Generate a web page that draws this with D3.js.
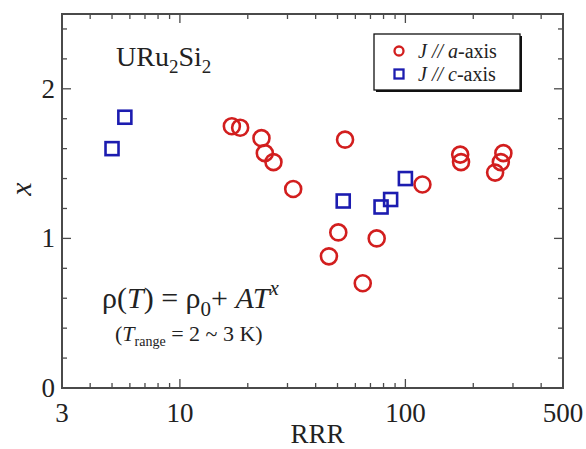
<!DOCTYPE html>
<html>
<head>
<meta charset="utf-8">
<script src="https://cdn.jsdelivr.net/npm/d3@7/dist/d3.min.js"></script>
<style>
  body { margin: 0; background: #fff; }
  text { font-family: 'Liberation Serif', 'DejaVu Serif', serif; fill: #222; }
</style>
</head>
<body>
<div id="chart"></div>
<script>
// J // a-axis
const aRRR = [17.0, 18.5, 23.0, 23.8, 26.0, 31.8, 54.0, 45.8, 50.4, 64.7, 74.6, 119, 175, 176.5, 250, 265, 272]
const aX = [1.75, 1.74, 1.67, 1.57, 1.51, 1.33, 1.66, 0.88, 1.04, 0.70, 1.00, 1.36, 1.56, 1.51, 1.44, 1.51, 1.57]
// J // c-axis
const cRRR = [5.0, 5.7, 53, 78, 86, 100]
const cX = [1.60, 1.81, 1.25, 1.21, 1.26, 1.40]

const xTickLabels = [3, 10, 100, 500]
const xMinor = [4, 5, 6, 7, 8, 9, 20, 30, 40, 50, 60, 70, 80, 90, 200, 300, 400]
const yTickLabels = [0, 1, 2]
const yMinor = [0.2, 0.4, 0.6, 0.8, 1.2, 1.4, 1.6, 1.8, 2.2, 2.4]

const W = 586
const H = 449
const margin = { left: 62, right: 23, top: 14, bottom: 61 }

const RED = '#d21e1e'
const BLUE = '#1c1cb0'
const AXIS = '#4a4a4a'

const svg = d3.select('#chart').append('svg').attr('width', W).attr('height', H)

const x = d3.scaleLog().domain([3, 500]).range([margin.left, W - margin.right])
const y = d3.scaleLinear().domain([0, 2.5]).range([H - margin.bottom, margin.top])

const x0 = x.range()[0]
const x1 = x.range()[1]
const y0 = y.range()[0]
const y1 = y.range()[1]

const drawTicks = (vals, len, isX) => {
  vals.forEach((v) => {
    if (isX) {
      svg.append('line').attr('x1', x(v)).attr('x2', x(v)).attr('y1', y0).attr('y2', y0 - len)
        .attr('stroke', AXIS).attr('stroke-width', 1.3)
      svg.append('line').attr('x1', x(v)).attr('x2', x(v)).attr('y1', y1).attr('y2', y1 + len)
        .attr('stroke', AXIS).attr('stroke-width', 1.3)
    } else {
      svg.append('line').attr('x1', x0).attr('x2', x0 + len).attr('y1', y(v)).attr('y2', y(v))
        .attr('stroke', AXIS).attr('stroke-width', 1.3)
      svg.append('line').attr('x1', x1).attr('x2', x1 - len).attr('y1', y(v)).attr('y2', y(v))
        .attr('stroke', AXIS).attr('stroke-width', 1.3)
    }
  })
}

drawTicks(xMinor, 5, true)
drawTicks([10, 100], 9, true)
drawTicks(yMinor, 5, false)
drawTicks([1, 2], 9, false)

// frame
svg.append('rect')
  .attr('x', x0).attr('y', y1)
  .attr('width', x1 - x0).attr('height', y0 - y1)
  .attr('fill', 'none').attr('stroke', AXIS).attr('stroke-width', 2)

// tick labels
svg.append('g').selectAll('text').data(xTickLabels).join('text')
  .attr('x', (d) => x(d)).attr('y', y0 + 34)
  .attr('text-anchor', 'middle').attr('font-size', 27)
  .text((d) => d)

svg.append('g').selectAll('text').data(yTickLabels).join('text')
  .attr('x', x0 - 7).attr('y', (d) => y(d) + 9)
  .attr('text-anchor', 'end').attr('font-size', 27)
  .text((d) => d)

// axis titles
svg.append('text')
  .attr('x', (x0 + x1) / 2 + 5).attr('y', 443)
  .attr('text-anchor', 'middle').attr('font-size', 27)
  .text('RRR')

svg.append('text')
  .attr('transform', `translate(31, ${y(1.33)}) rotate(-90)`)
  .attr('text-anchor', 'middle').attr('font-size', 30).attr('font-style', 'italic')
  .text('x')

// compound label
const comp = svg.append('text').attr('x', 116).attr('y', 66).attr('font-size', 28)
comp.append('tspan').text('URu')
comp.append('tspan').attr('font-size', 19).attr('dy', 7).text('2')
comp.append('tspan').attr('dy', -7).text('Si')
comp.append('tspan').attr('font-size', 19).attr('dy', 7).text('2')

// formula
const f = svg.append('text').attr('x', 102).attr('y', 308).attr('font-size', 30)
f.append('tspan').text('ρ(')
f.append('tspan').attr('font-style', 'italic').text('T')
f.append('tspan').text(') = ρ')
f.append('tspan').attr('font-size', 21).attr('dy', 8).text('0')
f.append('tspan').attr('dy', -8).text('+ ')
f.append('tspan').attr('font-style', 'italic').text('AT')
f.append('tspan').attr('font-size', 21).attr('font-style', 'italic').attr('dy', -13).text('x')

const f2 = svg.append('text').attr('x', 115).attr('y', 341).attr('font-size', 22)
f2.append('tspan').text('(')
f2.append('tspan').attr('font-style', 'italic').text('T')
f2.append('tspan').attr('font-size', 14).attr('dy', 5).text('range')
f2.append('tspan').attr('dy', -5).text(' = 2 ~ 3 K)')

// data
svg.append('g').selectAll('circle').data(d3.zip(aRRR, aX)).join('circle')
  .attr('cx', (d) => x(d[0])).attr('cy', (d) => y(d[1])).attr('r', 8)
  .attr('fill', 'none').attr('stroke', RED).attr('stroke-width', 2.6)

const sq = 13
svg.append('g').selectAll('rect').data(d3.zip(cRRR, cX)).join('rect')
  .attr('x', (d) => x(d[0]) - sq / 2).attr('y', (d) => y(d[1]) - sq / 2)
  .attr('width', sq).attr('height', sq)
  .attr('fill', 'none').attr('stroke', BLUE).attr('stroke-width', 2.6)

// legend
const lg = svg.append('g').attr('transform', 'translate(374, 34)')
lg.append('rect').attr('x', 2).attr('y', 2).attr('width', 146).attr('height', 56).attr('fill', '#111')
lg.append('rect').attr('x', 0).attr('y', 0).attr('width', 146).attr('height', 56)
  .attr('fill', '#fff').attr('stroke', '#111').attr('stroke-width', 1.3)
lg.append('circle').attr('cx', 25).attr('cy', 17).attr('r', 4.5)
  .attr('fill', 'none').attr('stroke', RED).attr('stroke-width', 2.3)
lg.append('rect').attr('x', 20.5).attr('y', 35.5).attr('width', 9).attr('height', 9)
  .attr('fill', 'none').attr('stroke', BLUE).attr('stroke-width', 2.3)

const legendRow = (yPos, letter) => {
  const t = lg.append('text').attr('x', 44).attr('y', yPos).attr('font-size', 20)
  t.append('tspan').attr('font-style', 'italic').text('J // ')
  t.append('tspan').attr('font-style', 'italic').text(letter)
  t.append('tspan').text('-axis')
}
legendRow(24, 'a')
legendRow(47, 'c')
</script>
</body>
</html>
